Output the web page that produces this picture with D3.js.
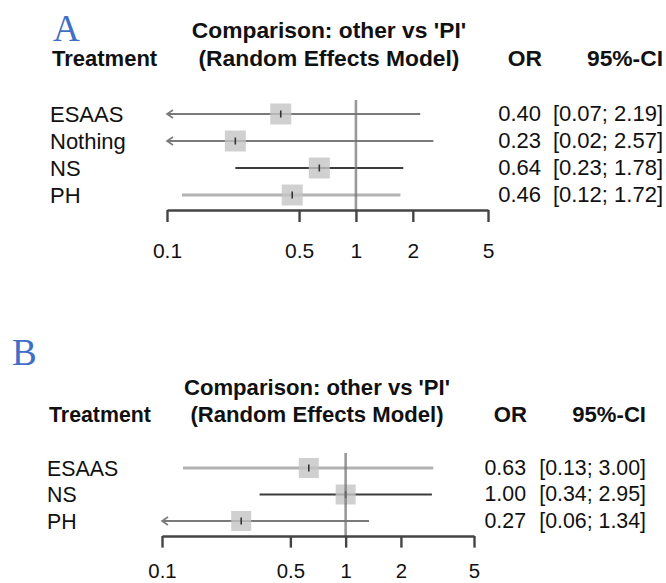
<!doctype html>
<html lang="en">
<head>
<meta charset="utf-8">
<script src="https://d3js.org/d3.v7.min.js"></script>
<title>Forest plots</title>
<style>
  body { margin: 0; background: #fff; }
  svg { display: block; font-family: "Liberation Sans", Arial, Helvetica, sans-serif; }
</style>
</head>
<body>
<svg id="chart"></svg>
<script>
// panel A data
const treatmentsA = ["ESAAS", "Nothing", "NS", "PH"];
const orA = [0.40, 0.23, 0.64, 0.46];
const lowerA = [0.07, 0.02, 0.23, 0.12];
const upperA = [2.19, 2.57, 1.78, 1.72];

// panel B data
const treatmentsB = ["ESAAS", "NS", "PH"];
const orB = [0.63, 1.00, 0.27];
const lowerB = [0.13, 0.34, 0.06];
const upperB = [3.00, 2.95, 1.34];

const tickValues = [0.1, 0.5, 1, 2, 5];
const headerTitle = ["Comparison: other vs 'PI'", "(Random Effects Model)"];

const width = 666, height = 583;
const svg = d3.select("#chart").attr("width", width).attr("height", height);

const fmt = d3.format(".2f");

function drawPanel(cfg) {
    const g = svg.append("g");
    const s = cfg.scale;

    const x = d3.scaleLog().domain([0.1, 5]).range(cfg.xRange);
    const y = d3.scalePoint().domain(cfg.treatments).range(cfg.yRange);

    // panel letter
    g.append("text")
        .attr("x", cfg.letterX).attr("y", cfg.letterY)
        .attr("font-family", "'Liberation Serif', 'Times New Roman', serif")
        .attr("font-size", 37)
        .attr("fill", "#3f6fc6")
        .text(cfg.letter);

    // header
    const bold = 22.8 * s;
    g.append("text").attr("x", cfg.labelX + 2).attr("y", cfg.headY2)
        .attr("font-weight", "bold").attr("font-size", 22 * s).attr("fill", "#111")
        .text("Treatment");
    headerTitle.forEach((t, i) => {
        g.append("text")
            .attr("x", cfg.titleX)
            .attr("y", i === 0 ? cfg.headY1 : cfg.headY2)
            .attr("text-anchor", "middle")
            .attr("font-weight", "bold").attr("font-size", bold).attr("fill", "#111")
            .text(t);
    });
    g.append("text").attr("x", cfg.orX).attr("y", cfg.headY2)
        .attr("text-anchor", "end").attr("font-weight", "bold").attr("font-size", bold).attr("fill", "#111")
        .text("OR");
    g.append("text").attr("x", cfg.ciX).attr("y", cfg.headY2)
        .attr("text-anchor", "end").attr("font-weight", "bold").attr("font-size", bold).attr("fill", "#111")
        .text("95%-CI");

    const rows = cfg.treatments.map((t, i) => ({
        name: t, or: cfg.or[i], lo: cfg.lower[i], hi: cfg.upper[i], col: cfg.lineColors[i], lw: cfg.lineWidths[i]
    }));

    const reg = 22 * s;
    // row labels
    g.selectAll(".lab").data(rows).join("text")
        .attr("x", cfg.labelX)
        .attr("y", d => y(d.name) + 8 * s)
        .attr("font-size", reg).attr("fill", "#111")
        .text(d => d.name);

    // values
    g.selectAll(".orv").data(rows).join("text")
        .attr("x", cfg.orX - 1)
        .attr("y", d => y(d.name) + 7 * s)
        .attr("text-anchor", "end")
        .attr("font-size", reg).attr("fill", "#111")
        .text(d => fmt(d.or));
    g.selectAll(".civ").data(rows).join("text")
        .attr("x", cfg.ciX)
        .attr("y", d => y(d.name) + 7 * s)
        .attr("text-anchor", "end")
        .attr("font-size", reg).attr("fill", "#111")
        .text(d => `[${fmt(d.lo)}; ${fmt(d.hi)}]`);

    const [xmin, xmax] = x.domain();
    const clampX = v => x(Math.max(xmin, Math.min(xmax, v)));

    // CI lines
    g.selectAll(".ci").data(rows).join("line")
        .attr("x1", d => clampX(d.lo)).attr("x2", d => clampX(d.hi))
        .attr("y1", d => y(d.name)).attr("y2", d => y(d.name))
        .attr("stroke", d => d.col).attr("stroke-width", d => d.lw);

    // arrows for truncated lower bounds
    g.selectAll(".arr").data(rows.filter(d => d.lo < xmin)).join("path")
        .attr("d", d => {
            const x0 = x(xmin), yy = y(d.name);
            return `M${x0 + 6},${yy - 4}L${x0},${yy}L${x0 + 6},${yy + 4}`;
        })
        .attr("fill", "none").attr("stroke", d => d.col).attr("stroke-width", 1.6);

    // squares
    const box = cfg.box;
    g.selectAll(".box").data(rows).join("rect")
        .attr("x", d => x(d.or) - box / 2).attr("y", d => y(d.name) - box / 2)
        .attr("width", box).attr("height", box)
        .attr("fill", "#c4c4c4").attr("fill-opacity", 0.8);

    // point estimate tick
    g.selectAll(".pt").data(rows).join("line")
        .attr("x1", d => x(d.or)).attr("x2", d => x(d.or))
        .attr("y1", d => y(d.name) - 3.5).attr("y2", d => y(d.name) + 3.5)
        .attr("stroke", "#333").attr("stroke-width", 1.6);

    // reference line at OR = 1
    g.append("line")
        .attr("x1", x(1)).attr("x2", x(1))
        .attr("y1", cfg.refTop).attr("y2", cfg.axisY)
        .attr("stroke", "#777").attr("stroke-opacity", 0.75).attr("stroke-width", 2.6);

    // axis
    const tickSize = 12 * s;
    const fontTick = 21 * s;
    const axis = d3.axisBottom(x)
        .tickValues(tickValues)
        .tickFormat(d => String(d))
        .tickSize(tickSize)
        .tickSizeOuter(0)
        .tickPadding(cfg.labelBase - cfg.axisY - tickSize - 0.71 * fontTick);
    const ax = g.append("g").attr("transform", `translate(0,${cfg.axisY})`).call(axis);
    ax.select(".domain").attr("stroke", "#444").attr("stroke-width", 2.4);
    ax.selectAll(".tick line").attr("stroke", "#444").attr("stroke-width", 2.4);
    ax.selectAll(".tick text")
        .attr("font-family", "'Liberation Sans', Arial, Helvetica, sans-serif")
        .attr("font-size", fontTick).attr("fill", "#111");
}

drawPanel({
    letter: "A", letterX: 53, letterY: 41,
    treatments: treatmentsA, or: orA, lower: lowerA, upper: upperA,
    lineColors: ["#7a7a7a", "#7a7a7a", "#3c3c3c", "#b2b2b2"],
    lineWidths: [2, 2, 2, 3],
    scale: 1,
    xRange: [167, 488], yRange: [114, 195],
    labelX: 50, titleX: 329, orX: 542, ciX: 663,
    headY1: 38, headY2: 66,
    refTop: 100, axisY: 210, labelBase: 258, box: 21
});

drawPanel({
    letter: "B", letterX: 12, letterY: 365,
    treatments: treatmentsB, or: orB, lower: lowerB, upper: upperB,
    lineColors: ["#b2b2b2", "#3c3c3c", "#7a7a7a"],
    lineWidths: [3, 2, 2],
    scale: 0.97,
    xRange: [162, 474], yRange: [468, 521],
    labelX: 47, titleX: 317, orX: 527, ciX: 646,
    headY1: 395, headY2: 422,
    refTop: 453, axisY: 536, labelBase: 578, box: 20
});
</script>
</body>
</html>
